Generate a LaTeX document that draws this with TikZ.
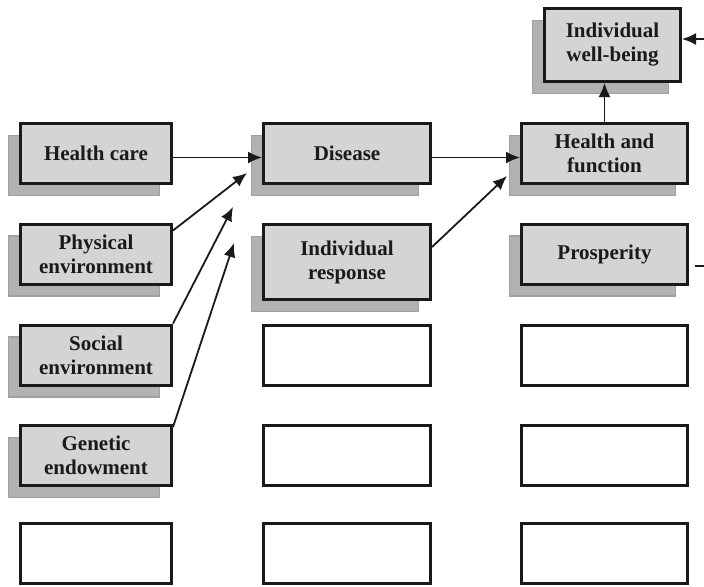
\documentclass[tikz,border=0pt]{standalone}
\usepackage{fontspec}
\setmainfont{Liberation Serif}
\usetikzlibrary{arrows.meta,shadows,calc}
\definecolor{boxfill}{RGB}{212,212,212}
\definecolor{shadefill}{RGB}{178,178,178}
\definecolor{shadeedge}{RGB}{160,160,160}
\definecolor{ink}{RGB}{26,26,26}

\begin{document}
\begin{tikzpicture}[x=0.5pt,y=-0.5pt,
  every node/.style={font=\fontsize{10.5}{12}\selectfont\bfseries, text=ink, align=center, inner sep=0pt},
  frame/.style={draw=ink, line width=1.5pt, minimum height=30pt},
  blank/.style={frame, fill=white},
  card/.style={frame, fill=boxfill,
    general shadow={shadow xshift=-6pt, shadow yshift=-6pt, fill=shadefill, draw=shadeedge, line width=0.6pt}},
  c1/.style={minimum width=75.5pt},
  c2/.style={minimum width=83.5pt},
  c3/.style={minimum width=83pt},
  arr/.style={draw=ink, line width=0.9pt, -{Latex[length=7pt,width=6pt]}},
  plain/.style={draw=ink, line width=0.9pt},
]
\useasboundingbox (0,0) rectangle (704,586);

% determinants column
\node[card,c1] (hc) at (96,153.5) {Health care};
\node[card,c1] (pe) at (96,254) {Physical\\environment};
\node[card,c1] (se) at (96,355) {Social\\environment};
\node[card,c1] (ge) at (96,455.5) {Genetic\\endowment};
\node[blank,c1] (e15) at (96,553.5) {};

% disease column
\node[card,c2] (dis) at (347,153.5) {Disease};
\node[card,c2,minimum height=37.5pt] (ir) at (347,262) {Individual\\response};
\node[blank,c2] (e23) at (347,355) {};
\node[blank,c2] (e24) at (347,455.5) {};
\node[blank,c2] (e25) at (347,553.5) {};

% outcomes column
\node[card,c3] (hf) at (604.5,153.5) {Health and\\function};
\node[card,c3] (pr) at (604.5,254) {Prosperity};
\node[blank,c3] (e33) at (604.5,355) {};
\node[blank,c3] (e34) at (604.5,455.5) {};
\node[blank,c3] (e35) at (604.5,553.5) {};

% top box
\node[card,minimum width=68pt,minimum height=36.5pt] (wb) at (612.5,45) {Individual\\well-being};

% free ends of connectors
\coordinate (tpe) at (247,173);
\coordinate (tse) at (233,207);
\coordinate (tge) at (234,243);
\coordinate (tir) at (507,176);
\coordinate (wbin) at (704,39);
\coordinate (prout) at (704,266);

% connectors
\draw[arr] ([yshift=-2pt]hc.east) -- ([yshift=-2pt]dis.west);
\draw[arr] ([yshift=-2pt]dis.east) -- ([yshift=-2pt]hf.west);
\draw[arr] ([yshift=-4pt]pe.north east) -- (tpe);
\draw[arr] (se.north east) -- (tse);
\draw[arr] ([yshift=-1.5pt]ge.north east) -- (tge);
\draw[arr] ([yshift=7.5pt]ir.east) -- (tir);
\draw[arr] (hf.north) -- (hf.north |- wb.south);
\draw[arr] (wbin) -- (wbin -| wb.east);
\draw[plain] ([xshift=3pt,yshift=-6pt]pr.east) -- (prout);
\end{tikzpicture}
\end{document}
